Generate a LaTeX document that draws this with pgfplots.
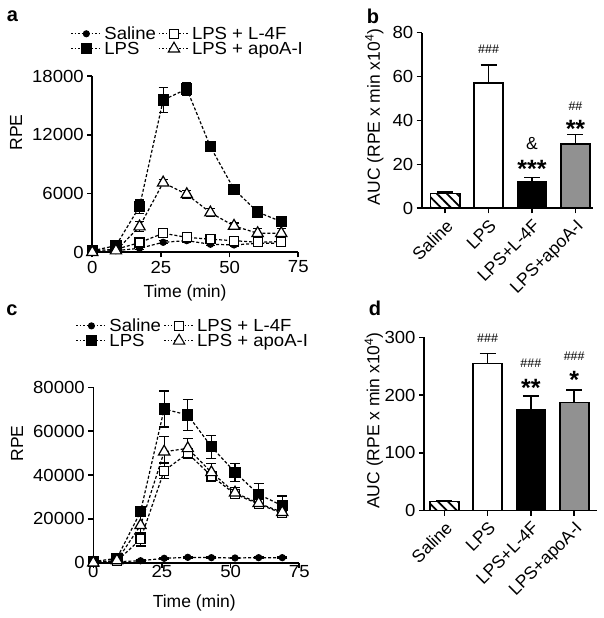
\documentclass[border=0pt]{standalone}
\usepackage{fontspec}
\setmainfont{Liberation Sans}
\newfontfamily\widefont{Liberation Sans}[FakeStretch=1.06]
\usepackage{pgfplots}
\pgfplotsset{compat=1.18}
\usetikzlibrary{patterns,patterns.meta}
\definecolor{midgray}{RGB}{145,145,145}
\newcommand\fs{\fontsize{17.5}{19}\selectfont}
\newcommand\fsw{\widefont\fontsize{17.5}{19}\selectfont}
\newcommand\hs{\fontsize{12.5}{13}\selectfont}
\newcommand\st{\bfseries\fontsize{25}{25}\selectfont}

\pgfplotsset{
  prism/.style={
    scale only axis,
    axis lines*=left,
    axis line style={line width=1.6pt},
    tick style={black, line width=1.6pt},
    tick align=outside,
    major tick length=5pt,
    tick label style={font=\fsw},
    label style={font=\fs},
    scaled y ticks=false,
    scaled x ticks=false,
    /pgf/number format/assume math mode=true,
    /pgf/number format/set thousands separator={},
    clip=false,
  },
  lineplot/.style={
    prism,
    xmin=0, xmax=75, ymin=0,
    xtick={0,25,50,75},
    xlabel={Time (min)}, ylabel={RPE},
    legend columns=2,
    legend cell align=left,
    legend style={draw=none, fill=none, font=\fsw, anchor=north west,
      nodes={inner sep=0.5pt}, row sep=0pt, column sep=2pt},
    legend image code/.code={\draw[mark repeat=2,mark phase=2,##1,dash pattern=on 1.4pt off 2pt, line width=1.1pt] plot coordinates {(0pt,0pt) (15pt,0pt) (30pt,0pt)};},
  },
  sal/.style={black, line width=1.2pt, dash pattern=on 3pt off 2pt, mark=*, mark size=3pt, mark options={solid}},
  lps/.style={black, line width=1.2pt, dash pattern=on 3pt off 2pt, mark=square*, mark size=5pt, mark options={solid}},
  lff/.style={black, line width=1.2pt, dash pattern=on 3pt off 2pt, mark=square*, mark size=4.5pt, mark options={solid, fill=white}},
  apo/.style={black, line width=1.2pt, dash pattern=on 3pt off 2pt, mark=triangle*, mark size=6.5pt, mark options={solid, fill=white}},
  barplot/.style={
    prism,
    ymin=0,
    xtick={0,1,2,3},
    xticklabels={Saline,LPS,LPS+L-4F,LPS+apoA-I},
    xticklabel style={rotate=45, anchor=north east, font=\fs},
    ylabel={AUC (RPE x min x10\textsuperscript{4})},
  },
}

\begin{document}
\begin{tikzpicture}
\useasboundingbox (0,0) rectangle (604pt,618pt);

% ---------------- panel a
\begin{axis}[lineplot, at={(92.3pt,365.7pt)}, anchor=south west,
  width=206pt, height=176.3pt, ymax=18000,
  ytick={0,6000,12000,18000},
  xlabel style={at={(axis description cs:0.45,-0.231)}, anchor=center},
  ylabel style={at={(axis description cs:-0.37,0.68)}, anchor=center},
  legend style={at={(-0.12,1.295)}},
]
\addplot[sal, error bars/.cd, y dir=both, y explicit, error bar style={solid,line width=1.2pt}, error mark options={solid,line width=1.2pt,mark size=4.5pt,rotate=90}]
 coordinates {(0,70)+-(0,0) (8.6,170)+-(0,100) (17.2,410)+-(0,150) (25.8,1020)+-(0,150) (34.4,1190)+-(0,150) (43,820)+-(0,150) (51.6,750)+-(0,150) (60.2,920)+-(0,150) (68.8,920)+-(0,150)};
\addlegendentry{Saline}
\addplot[lff, error bars/.cd, y dir=both, y explicit, error bar style={solid,line width=1.2pt}, error mark options={solid,line width=1.2pt,mark size=4.5pt,rotate=90}]
 coordinates {(0,170)+-(0,100) (8.6,300)+-(0,150) (17.2,990)+-(0,400) (25.8,1940)+-(0,300) (34.4,1530)+-(0,300) (43,1330)+-(0,300) (51.6,1190)+-(0,300) (60.2,1020)+-(0,300) (68.8,1090)+-(0,300)};
\addlegendentry{LPS + L-4F}
\addplot[lps, error bars/.cd, y dir=both, y explicit, error bar style={solid,line width=1.2pt}, error mark options={solid,line width=1.2pt,mark size=4.5pt,rotate=90}]
 coordinates {(0,160)+-(0,100) (8.6,680)+-(0,300) (17.2,4660)+-(0,680) (25.8,15550)+-(0,1290) (34.4,16670)+-(0,680) (43,10780)+-(0,300) (51.6,6430)+-(0,300) (60.2,4110)+-(0,300) (68.8,3130)+-(0,300)};
\addlegendentry{LPS}
\addplot[apo, error bars/.cd, y dir=both, y explicit, error bar style={solid,line width=1.2pt}, error mark options={solid,line width=1.2pt,mark size=4.5pt,rotate=90}]
 coordinates {(0,0)+-(0,0) (8.6,170)+-(0,100) (17.2,2620)+-(0,500) (25.8,7110)+-(0,300) (34.4,5920)+-(0,400) (43,4050)+-(0,400) (51.6,2690)+-(0,300) (60.2,1940)+-(0,500) (68.8,1940)+-(0,500)};
\addlegendentry{LPS + apoA-I}
\end{axis}

% ---------------- panel c
\begin{axis}[lineplot, at={(93.3pt,55.3pt)}, anchor=south west,
  width=206pt, height=175.4pt, ymax=80000,
  ytick={0,20000,40000,60000,80000},
  xticklabel style={yshift=6pt},
  xlabel style={at={(axis description cs:0.49,-0.23)}, anchor=center},
  ylabel style={at={(axis description cs:-0.37,0.68)}, anchor=center},
  legend style={at={(-0.10,1.406)}},
]
\addplot[sal, error bars/.cd, y dir=both, y explicit, error bar style={solid,line width=1.2pt}, error mark options={solid,line width=1.2pt,mark size=5pt,rotate=90}]
 coordinates {(0,300)+-(0,0) (8.6,450)+-(0,200) (17.2,900)+-(0,300) (25.8,2000)+-(0,300) (34.4,2450)+-(0,300) (43,2300)+-(0,300) (51.6,2150)+-(0,300) (60.2,2300)+-(0,300) (68.8,2300)+-(0,300)};
\addlegendentry{Saline}
\addplot[lff, error bars/.cd, y dir=both, y explicit, error bar style={solid,line width=1.2pt}, error mark options={solid,line width=1.2pt,mark size=5pt,rotate=90}]
 coordinates {(0,300)+-(0,100) (8.6,800)+-(0,500) (17.2,10650)+-(0,3000) (25.8,41950)+-(0,3500) (34.4,49900)+-(0,2000) (43,39550)+-(0,2000) (51.6,31300)+-(0,2000) (60.2,26750)+-(0,2000) (68.8,22500)+-(0,2000)};
\addlegendentry{LPS + L-4F}
\addplot[lps, error bars/.cd, y dir=both, y explicit, error bar style={solid,line width=1.2pt}, error mark options={solid,line width=1.2pt,mark size=5pt,rotate=90}]
 coordinates {(0,500)+-(0,200) (8.6,2000)+-(0,1500) (17.2,23260)+-(0,2000) (25.8,70090)+-(0,8200) (34.4,67350)+-(0,7100) (43,52900)+-(0,5300) (51.6,41220)+-(0,4100) (60.2,31190)+-(0,5000) (68.8,26000)+-(0,4400)};
\addlegendentry{LPS}
\addplot[apo, error bars/.cd, y dir=both, y explicit, error bar style={solid,line width=1.2pt}, error mark options={solid,line width=1.2pt,mark size=5pt,rotate=90}]
 coordinates {(0,0)+-(0,0) (8.6,1000)+-(0,500) (17.2,17050)+-(0,4000) (25.8,50600)+-(0,6850) (34.4,52150)+-(0,4500) (43,41200)+-(0,4100) (51.6,31900)+-(0,2500) (60.2,27100)+-(0,2500) (68.8,23000)+-(0,2500)};
\addlegendentry{LPS + apoA-I}
\end{axis}

% ---------------- panel b
\begin{axis}[barplot, at={(421.7pt,409.7pt)}, anchor=south west,
  width=171.6pt, height=175.6pt, xmin=-0.54, xmax=3.41, ymax=80,
  ytick={0,20,40,60,80},
  ylabel style={at={(axis description cs:-0.276,0.52)}, anchor=center},
]
\addplot[ybar, bar width=0.67, bar shift=0pt, draw=black, line width=1.6pt,
  pattern={Lines[angle=-45, distance=7pt, line width=1.8pt]},
  error bars/.cd, y dir=plus, y explicit, error bar style={line width=1.6pt}, error mark options={line width=1.6pt, mark size=8pt, rotate=90}]
  coordinates {(0,6.8)+-(0,0.7)};
\addplot[ybar, bar width=0.67, bar shift=0pt, draw=black, line width=1.6pt, fill=white,
  error bars/.cd, y dir=plus, y explicit, error bar style={line width=1.6pt}, error mark options={line width=1.6pt, mark size=8pt, rotate=90}]
  coordinates {(1,57.1)+-(0,8.2)};
\addplot[ybar, bar width=0.67, bar shift=0pt, draw=black, line width=1.6pt, fill=black,
  error bars/.cd, y dir=plus, y explicit, error bar style={line width=1.6pt}, error mark options={line width=1.6pt, mark size=8pt, rotate=90}]
  coordinates {(2,12.1)+-(0,2.0)};
\addplot[ybar, bar width=0.67, bar shift=0pt, draw=black, line width=1.6pt, fill=midgray,
  error bars/.cd, y dir=plus, y explicit, error bar style={line width=1.6pt}, error mark options={line width=1.6pt, mark size=8pt, rotate=90}]
  coordinates {(3,29.2)+-(0,4.4)};
\node[font=\hs] at (axis cs:1,72.6) {\#\#\#};
\node[font=\fs] at (axis cs:2,29.6) {\&};
\node[font=\st, yshift=-5pt] at (axis cs:2,20.2) {***};
\node[font=\hs] at (axis cs:3,46.6) {\#\#};
\node[font=\st, yshift=-6pt] at (axis cs:3,38.7) {**};
\end{axis}

% ---------------- panel d
\begin{axis}[barplot, at={(424pt,107.3pt)}, anchor=south west,
  width=172.7pt, height=173.4pt, xmin=-0.47, xmax=3.52, ymax=300,
  ytick={0,100,200,300},
  ylabel style={at={(axis description cs:-0.29,0.52)}, anchor=center},
]
\addplot[ybar, bar width=0.67, bar shift=0pt, draw=black, line width=1.6pt,
  pattern={Lines[angle=-45, distance=7pt, line width=1.8pt]},
  error bars/.cd, y dir=plus, y explicit, error bar style={line width=1.6pt}, error mark options={line width=1.6pt, mark size=8pt, rotate=90}]
  coordinates {(0,15.6)+-(0,1)};
\addplot[ybar, bar width=0.67, bar shift=0pt, draw=black, line width=1.6pt, fill=white,
  error bars/.cd, y dir=plus, y explicit, error bar style={line width=1.6pt}, error mark options={line width=1.6pt, mark size=8pt, rotate=90}]
  coordinates {(1,255)+-(0,17)};
\addplot[ybar, bar width=0.67, bar shift=0pt, draw=black, line width=1.6pt, fill=black,
  error bars/.cd, y dir=plus, y explicit, error bar style={line width=1.6pt}, error mark options={line width=1.6pt, mark size=8pt, rotate=90}]
  coordinates {(2,174.2)+-(0,24.2)};
\addplot[ybar, bar width=0.67, bar shift=0pt, draw=black, line width=1.6pt, fill=midgray,
  error bars/.cd, y dir=plus, y explicit, error bar style={line width=1.6pt}, error mark options={line width=1.6pt, mark size=8pt, rotate=90}]
  coordinates {(3,186.9)+-(0,21.9)};
\node[font=\hs] at (axis cs:1,298) {\#\#\#};
\node[font=\hs] at (axis cs:2,256) {\#\#\#};
\node[font=\st, yshift=-5pt] at (axis cs:2,221.5) {**};
\node[font=\hs] at (axis cs:3,266.4) {\#\#\#};
\node[font=\st, yshift=-5pt] at (axis cs:3,234.8) {*};
\end{axis}

% panel letters
\node[font=\bfseries\fontsize{20}{20}\selectfont] at (12.5pt,602pt) {a};
\node[font=\bfseries\fontsize{20}{20}\selectfont] at (373pt,601.5pt) {b};
\node[font=\bfseries\fontsize{20}{20}\selectfont] at (12pt,308pt) {c};
\node[font=\bfseries\fontsize{20}{20}\selectfont] at (375pt,310pt) {d};
\end{tikzpicture}
\end{document}
